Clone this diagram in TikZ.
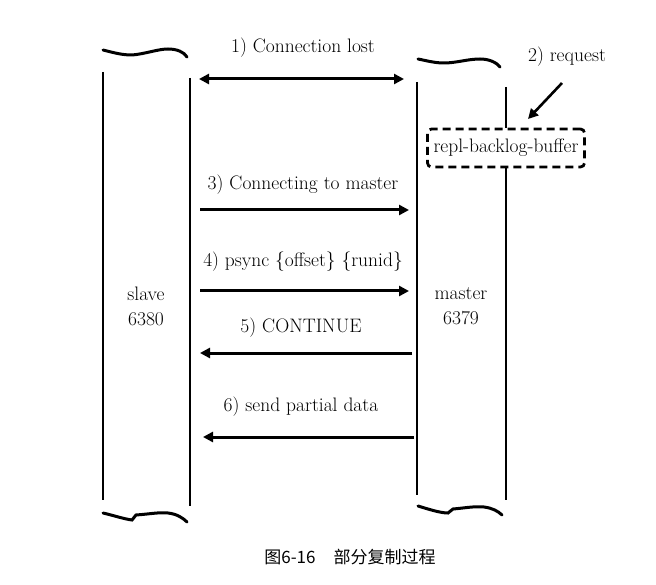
\documentclass[tikz,border=0pt]{standalone}
\usepackage{fontspec}
\newfontfamily\cjk{Noto Sans CJK SC}
\usetikzlibrary{arrows.meta}

\begin{document}
\begin{tikzpicture}[
            x=1pt,y=-1pt,
            wall/.style={line width=2.2pt},
            brace/.style={line width=3pt,line cap=round},
            msg/.style={line width=3pt,-{Triangle[length=10pt,width=10pt]}},
            twoway/.style={line width=3pt,{Triangle[length=10pt,width=10pt]}-{Triangle[length=10pt,width=10pt]}},
            msglabel/.style={font=\fontsize{19.5}{21}\selectfont,inner sep=1pt},
            hostlabel/.style={font=\fontsize{19.5}{25}\selectfont,align=center},
            bufbox/.style={draw,line width=2.8pt,dash pattern=on 8pt off 5pt,rounded corners=4pt,
                minimum width=157pt,minimum height=38pt,inner sep=1pt,font=\fontsize{19.5}{21}\selectfont}
        ]
            \useasboundingbox (0,0) rectangle (656,585);

            % Slave column
            \draw[wall] (103,72) -- (103,500);
            \draw[wall] (190,78) -- (190,506);
            \draw[brace] (103,50) .. controls (115,53) and (122,55) .. (132,55)
                .. controls (145,54) and (158,49) .. (168,49) .. controls (177,49) and (184,52) .. (187,57);
            \draw[brace] (103,513) .. controls (112,515) and (124,519) .. (132,520)
                -- (136,515) .. controls (150,514) and (160,512) .. (168,513)
                .. controls (177,514) and (183,518) .. (187,522);
            \node[hostlabel] (slave) at (146,306) {slave\\6380};

            % Master column
            \node[bufbox] (buffer) at (506,148) {repl-backlog-buffer};
            \draw[wall] (417,82) -- (417,495);
            \draw[wall] (506,87) -- (buffer.north);
            \draw[wall] (buffer.south) -- (506,500);
            \draw[brace] (418,59) .. controls (428,61) and (435,63) .. (444,63)
                .. controls (456,63) and (468,59) .. (480,59) .. controls (490,59) and (497,63) .. (500,67);
            \draw[brace] (418,506) .. controls (428,509) and (440,513) .. (448,513)
                -- (453,509) .. controls (465,508) and (475,506) .. (484,507)
                .. controls (492,508) and (498,511) .. (502,515);
            \node[hostlabel] (master) at (461,306) {master\\6379};

            % Request into the buffer
            \node[msglabel] (req) at (567,57) {2) request};
            \coordinate (reqA) at (562,83);
            \coordinate (reqB) at (528,119);
            \draw[line width=2.6pt,-{Triangle[length=10pt,width=10pt]}] (reqA) -- (reqB);

            % Messages between slave and master
            \coordinate (s1) at (199,79);  \coordinate (m1) at (404,79);
            \coordinate (s3) at (200,210); \coordinate (m3) at (409,210);
            \coordinate (s4) at (200,291); \coordinate (m4) at (409,291);
            \coordinate (s5) at (200,353); \coordinate (m5) at (412,353);
            \coordinate (s6) at (203,437); \coordinate (m6) at (414,437);

            \draw[twoway] (s1) -- (m1);
            \draw[msg] (s3) -- (m3);
            \draw[msg] (s4) -- (m4);
            \draw[msg] (m5) -- (s5);
            \draw[msg] (m6) -- (s6);

            \node[msglabel] (l1) at (303,48) {1) Connection lost};
            \node[msglabel] (l3) at (303,185) {3) Connecting to master};
            \node[msglabel] (l4) at (303,262) {4) psync \{offset\} \{runid\}};
            \node[msglabel] (l5) at (301,328) {5) CONTINUE};
            \node[msglabel] (l6) at (301,407) {6) send partial data};

            % Caption
            \node[font=\cjk\fontsize{17}{19}\selectfont] (cap) at (350,557) {图6-16\hspace{18pt}部分复制过程};
        \end{tikzpicture}
\end{document}
